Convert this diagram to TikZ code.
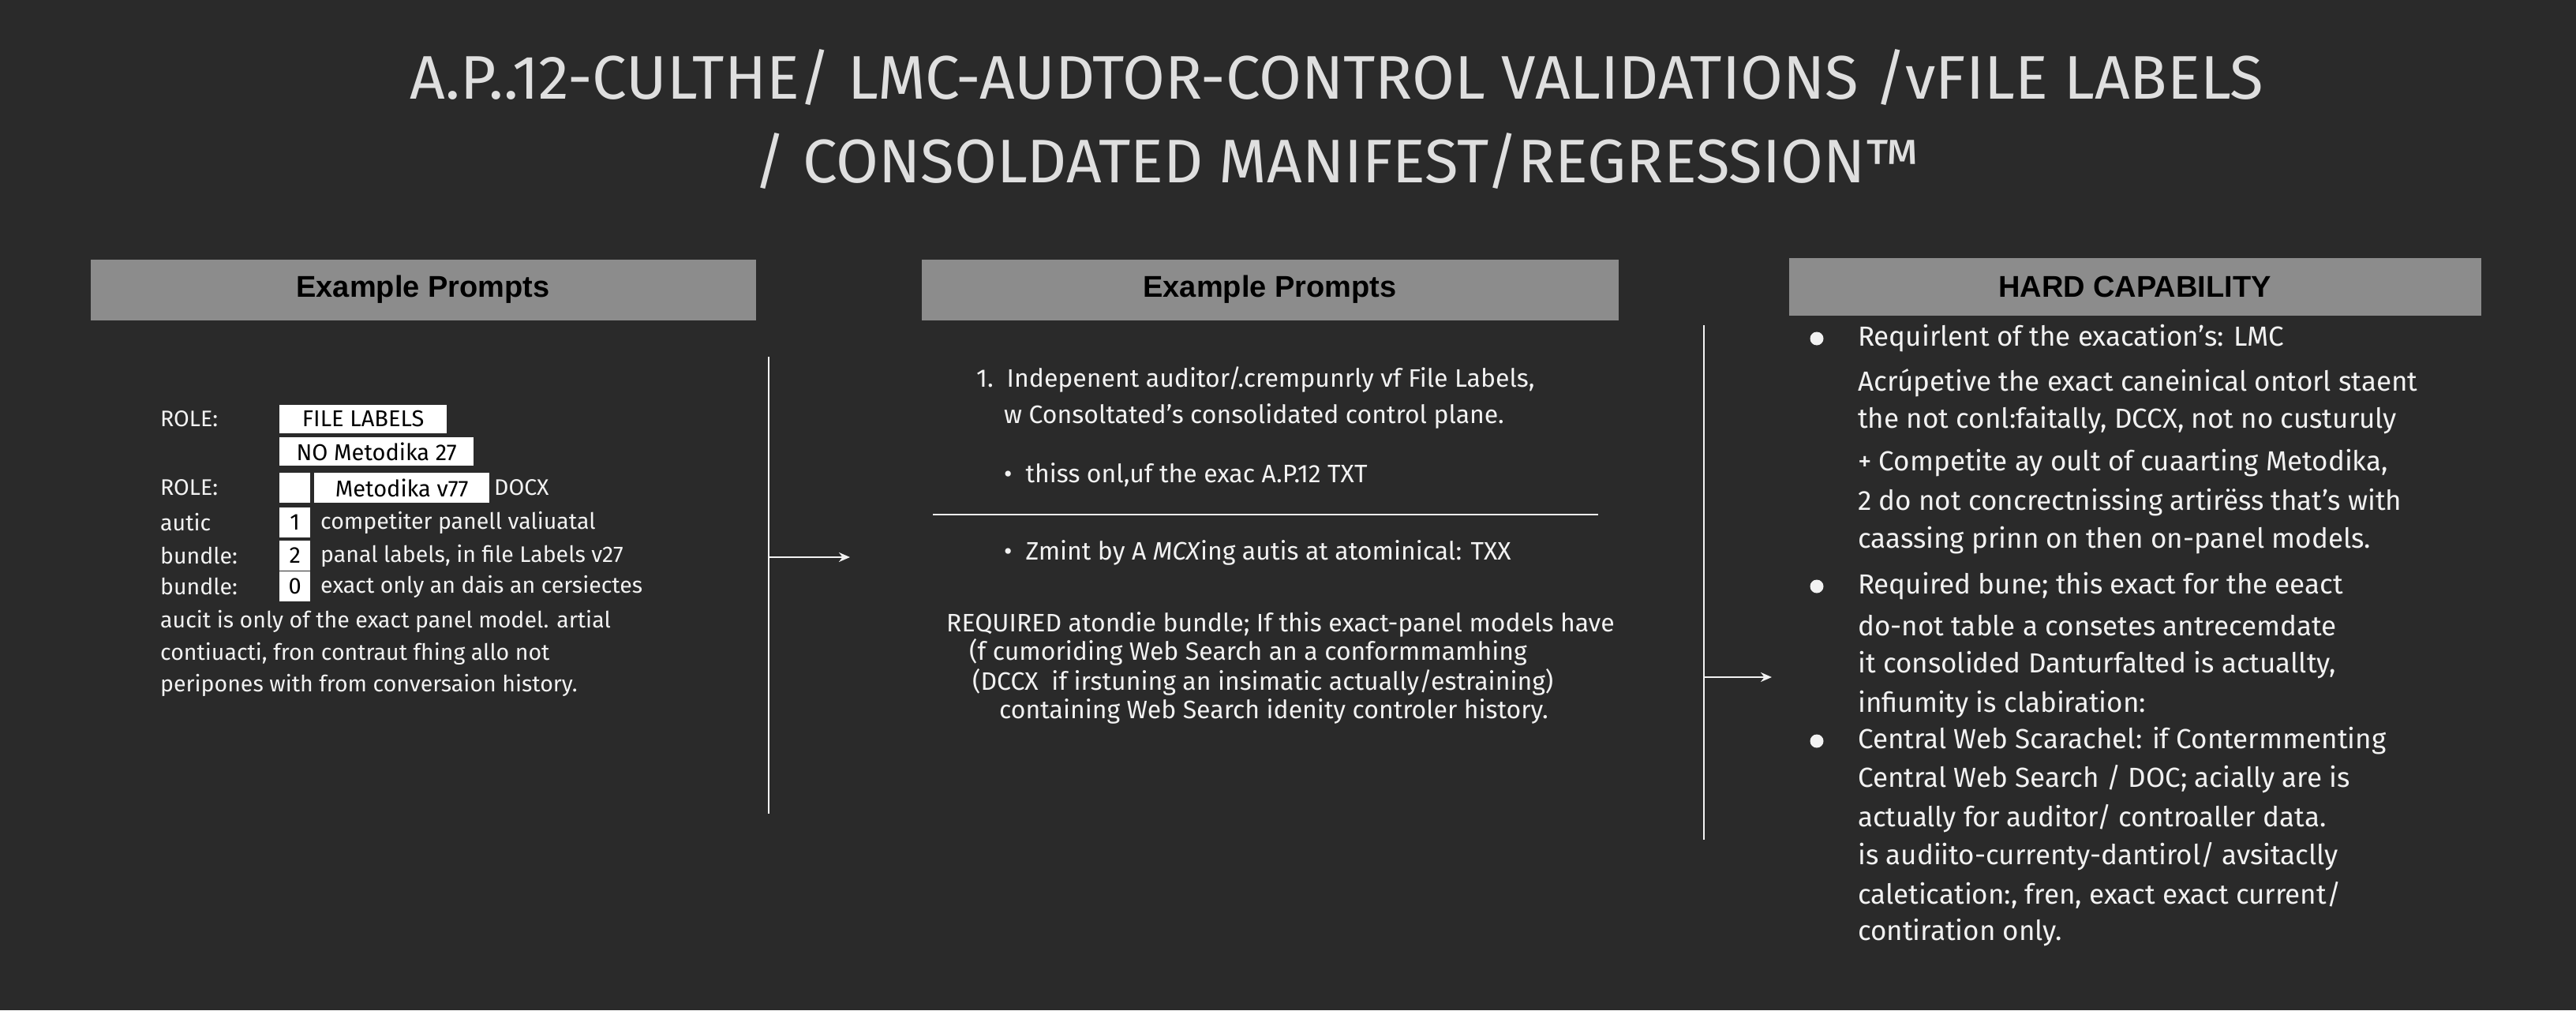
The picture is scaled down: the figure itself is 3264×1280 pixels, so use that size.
\documentclass[tikz,border=0pt]{standalone}
\usetikzlibrary{arrows.meta}
\usepackage{fontspec}
\setmainfont{Fira Sans}
\newfontfamily\hdfont{Liberation Sans}
\definecolor{bg}{HTML}{2A2A2A}
\definecolor{fg}{HTML}{F2F2F2}
\definecolor{bar}{HTML}{8C8C8C}
\begin{document}
\begin{tikzpicture}[x=1pt,y=-1pt,
  txt/.style={anchor=west,text=fg,inner sep=0pt,font=\fontsize{28.5}{34}\selectfont},
  mtxt/.style={anchor=west,text=fg,inner sep=0pt,font=\fontsize{32}{36}\selectfont},
  rtxt/.style={anchor=west,text=fg,inner sep=0pt,font=\fontsize{35}{40}\selectfont},
  ttl/.style={text=fg!92!black,inner sep=0pt,font=\fontsize{78}{86}\selectfont},
  hdr/.style={fill=bar,text=black,inner sep=0pt,font=\hdfont\bfseries\fontsize{38}{42}\selectfont},
  lbl/.style={fill=white,text=black,anchor=west,inner sep=0pt,minimum height=36pt,font=\fontsize{29}{34}\selectfont},
  nbox/.style={lbl,minimum width=39pt,minimum height=38pt},
  rule/.style={draw=fg,line width=2.5pt},
  arr/.style={draw=fg,line width=2.5pt,-{Stealth[length=14pt,width=12pt]}},
  dot/.style={circle,fill=fg,inner sep=0pt,minimum size=17pt}]
\fill[bg] (0,0) rectangle (3264,1280);
\useasboundingbox (0,0) rectangle (3264,1280);
% title
\node[ttl] (t1) at (1694,98) {A.P..12-CULTHE/ LMC-AUDTOR-CONTROL VALIDATIONS /vFILE LABELS};
\node[ttl] (t2) at (1694,204) {/ CONSOLDATED MANIFEST/REGRESSION™};
% headers
\node[hdr,minimum width=843pt,minimum height=77pt] (h1) at (536,367) {Example Prompts};
\node[hdr,minimum width=883pt,minimum height=77pt] (h2) at (1609,367) {Example Prompts};
\node[hdr,minimum width=877pt,minimum height=73pt] (h3) at (2705,363) {HARD CAPABILITY};
% separators
\coordinate (v1a) at (974,452); \coordinate (v1b) at (974,1031);
\draw[rule] (v1a) -- (v1b);
\coordinate (a1s) at (974,706); \coordinate (a1e) at (1077,706);
\draw[arr] (a1s) -- (a1e);
\coordinate (v2a) at (2159,412); \coordinate (v2b) at (2159,1064);
\draw[rule] (v2a) -- (v2b);
\coordinate (a2s) at (2159,858); \coordinate (a2e) at (2245,858);
\draw[arr] (a2s) -- (a2e);
% left panel
\node[txt] (l1) at (203,531) {ROLE:};
\node[lbl,minimum width=212pt] (b1) at (354,531) {FILE LABELS};
\node[lbl,minimum width=246pt] (b2) at (354,572) {NO Metodika 27};
\node[txt] (l3) at (203,618) {ROLE:};
\node[lbl,minimum width=39pt,minimum height=38pt] (b3) at (354,618) {};
\node[lbl,minimum width=222pt,minimum height=38pt] (b4) at (398,618) {Metodika v77};
\node[txt] (l3b) at (626,618) {DOCX};
\node[txt] (l4) at (203,662) {autic};
\node[nbox] (n1) at (354,662) {1};
\node[txt] (l4b) at (406,662) {competiter panell valiuatal};
\node[txt] (l5) at (203,704) {bundle:};
\node[nbox] (n2) at (354,704) {2};
\node[txt] (l5b) at (406,704) {panal labels, in file Labels v27};
\node[txt] (l6) at (203,743) {bundle:};
\node[nbox] (n3) at (354,743) {0};
\node[txt] (l6b) at (406,743) {exact only an dais an cersiectes};
\node[txt] (l7) at (203,787) {aucit is only of the exact panel model. artial};
\node[txt] (l8) at (203,828) {contiuacti, fron contraut fhing allo not};
\node[txt] (l9) at (203,868) {peripones with from conversaion history.};
% middle panel
\node[mtxt] (m1) at (1237,481) {1.\ \ Indepenent auditor/.crempunrly vf File Labels,};
\node[mtxt] (m2) at (1272,527) {w Consoltated's consolidated control plane.};
\node[mtxt] (m3) at (1272,602) {•\ \ thiss onl,uf the exac A.P.12 TXT};
\coordinate (hra) at (1182,652); \coordinate (hrb) at (2025,652);
\draw[draw=fg,line width=1.5pt] (hra) -- (hrb);
\node[mtxt] (m4) at (1272,700) {•\ \ Zmint by A \textit{MCX}ing autis at atominical: TXX};
\node[mtxt] (m5) at (1199,791) {REQUIRED atondie bundle; If this exact-panel models have};
\node[mtxt] (m6) at (1228,826) {(f cumoriding Web Search an a conformmamhing};
\node[mtxt] (m7) at (1232,864) {(DCCX\ \ if irstuning an insimatic actually/estraining)};
\node[mtxt] (m8) at (1266,901) {containing Web Search idenity controler history.};
% right panel
\node[dot] (d1) at (2302,429) {};
\node[dot] (d2) at (2302,743) {};
\node[dot] (d3) at (2302,939) {};
\node[rtxt] (r1) at (2354,429) {Requirlent of the exacation's: LMC};
\node[rtxt] (r2) at (2354,485) {Acrúpetive the exact caneinical ontorl staent};
\node[rtxt] (r3) at (2354,533) {the not conl:faitally, DCCX, not no custuruly};
\node[rtxt] (r4) at (2354,587) {+ Competite ay oult of cuaarting Metodika,};
\node[rtxt] (r5) at (2354,637) {2 do not concrectnissing artirëss that's with};
\node[rtxt] (r6) at (2354,685) {caassing prinn on then on-panel models.};
\node[rtxt] (r7) at (2354,743) {Required bune; this exact for the eeact};
\node[rtxt] (r8) at (2354,793) {do-not table a consetes antrecemdate};
\node[rtxt] (r9) at (2354,843) {it consolided Danturfalted is actuallty,};
\node[rtxt] (r10) at (2354,893) {infiumity is clabiration:};
\node[rtxt] (r11) at (2354,939) {Central Web Scarachel: if Contermmenting};
\node[rtxt] (r12) at (2354,987) {Central Web Search / DOC; acially are is};
\node[rtxt] (r13) at (2354,1037) {actually for auditor/ controaller data.};
\node[rtxt] (r14) at (2354,1085) {is audiito-currenty-dantirol/ avsitaclly};
\node[rtxt] (r15) at (2354,1134) {caletication:, fren, exact exact current/};
\node[rtxt] (r16) at (2354,1182) {contiration only.};
\end{tikzpicture}
\end{document}
